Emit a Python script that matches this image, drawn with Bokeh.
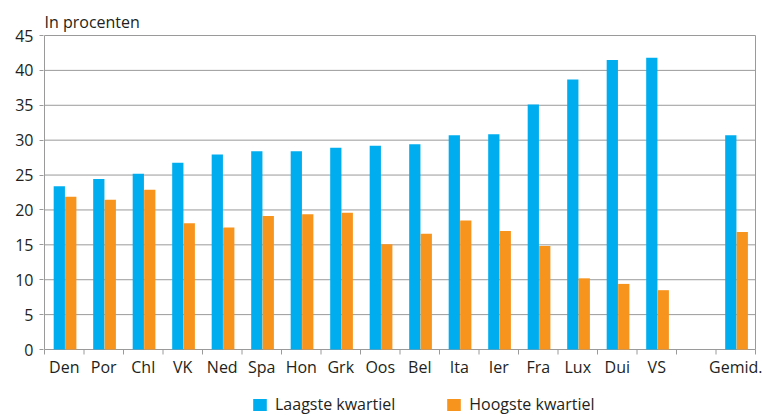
import numpy as np
from bokeh.plotting import figure
from bokeh.models import ColumnDataSource, Range1d, FixedTicker, Legend, LegendItem
from bokeh.core.properties import value
from bokeh.transform import dodge
from bokeh.embed import file_html
from bokeh.resources import INLINE

categories = ["Den", "Por", "Chl", "VK", "Ned", "Spa", "Hon", "Grk", "Oos", "Bel",
              "Ita", "Ier", "Fra", "Lux", "Dui", "VS", "", "Gemid."]
laagste = [23.4, 24.45, 25.2, 26.75, 27.95, 28.4, 28.4, 28.9, 29.2, 29.4,
           30.7, 30.85, 35.1, 38.7, 41.5, 41.8, None, 30.7]
hoogste = [21.9, 21.45, 22.9, 18.1, 17.5, 19.15, 19.4, 19.6, 15.1, 16.6,
           18.5, 17.0, 14.85, 10.2, 9.4, 8.5, None, 16.85]
y_ticks = [0, 5, 10, 15, 20, 25, 30, 35, 40, 45]

BLUE = "#00AEEF"
ORANGE = "#F7941D"
GRID = "#9a9a9a"
TEXT = "#231f20"
FONT = "Open Sans"
FS = "16px"

n = len(categories)
# layout (pixels)
PX_X = 39.5            # pixels per category
PX_Y = 314 / 45.0      # pixels per percent
LEFT, TOP, W, H = 43, 34, 764, 415
ZERO_PX = 349          # page y of value 0
x_start = -1 / PX_X
x_end = n + (W - (LEFT + 1 + n * PX_X)) / PX_X
y_end = y_ticks[-1] + 1 / PX_Y
y_start = -(H - ZERO_PX) / PX_Y

idx = [i for i, v in enumerate(laagste) if v is not None]
src = ColumnDataSource(dict(
    x=[i + 0.5 for i in idx],
    low=[laagste[i] for i in idx],
    high=[hoogste[i] for i in idx],
))

p = figure(frame_width=W - LEFT, frame_height=H - TOP, output_backend="svg",
           toolbar_location=None, x_axis_location=None,
           x_range=Range1d(x_start, x_end), y_range=Range1d(y_start, y_end),
           min_border_left=LEFT, min_border_right=0, min_border_top=TOP,
           min_border_bottom=0, title="In procenten")

p.outline_line_color = None
p.background_fill_color = "white"
p.border_fill_color = "white"
p.xgrid.grid_line_color = None
p.ygrid.grid_line_color = None

# horizontal grid lines (only across the category area)
p.segment(x0=[0] * len(y_ticks), x1=[n] * len(y_ticks), y0=y_ticks, y1=y_ticks,
          line_color=GRID, line_width=1)

r1 = p.vbar(x=dodge("x", -0.125, range=p.x_range), top="low", width=0.285,
            source=src, fill_color=BLUE, line_color=None)
r2 = p.vbar(x=dodge("x", 0.165, range=p.x_range), top="high", width=0.285,
            source=src, fill_color=ORANGE, line_color=None)

# axis line (left) and right border
p.segment(x0=[0, n], x1=[0, n], y0=[y_ticks[0]] * 2, y1=[y_ticks[-1]] * 2,
          line_color=GRID, line_width=1)
# category boundary ticks
bounds = list(range(n + 1))
tick_len = 5 / PX_Y
p.segment(x0=bounds, x1=bounds, y0=[0] * len(bounds), y1=[-tick_len] * len(bounds),
          line_color=GRID, line_width=1)
# category labels
p.text(x=[i + 0.5 for i in range(n)], y=[0] * n, text=categories,
       text_font=value(FONT), text_font_size=value(FS), text_color=TEXT,
       text_align="center", text_baseline="top", y_offset=6)

p.title.text_font = FONT
p.title.text_font_size = FS
p.title.text_font_style = "normal"
p.title.text_color = TEXT
p.title.align = "left"
p.title.offset = 1
p.title.standoff = 4

ya = p.yaxis[0]
ya.ticker = FixedTicker(ticks=y_ticks)
ya.axis_line_color = None
ya.major_tick_line_color = GRID
ya.major_tick_out = 4
ya.major_tick_in = 0
ya.minor_tick_line_color = None
ya.major_label_text_font = FONT
ya.major_label_text_font_size = FS
ya.major_label_text_color = TEXT
ya.major_label_standoff = 6

legend = Legend(items=[LegendItem(label="Laagste kwartiel", renderers=[r1]),
                       LegendItem(label="Hoogste kwartiel", renderers=[r2])],
                orientation="horizontal", location=(208, 0),
                glyph_width=17, glyph_height=15, label_height=15,
                label_standoff=7, spacing=50,
                padding=0, margin=0, border_line_color=None,
                background_fill_alpha=0,
                label_text_font=FONT, label_text_font_size=FS,
                label_text_color=TEXT)
p.add_layout(legend)

open("out.html", "w").write(file_html(p, INLINE))
